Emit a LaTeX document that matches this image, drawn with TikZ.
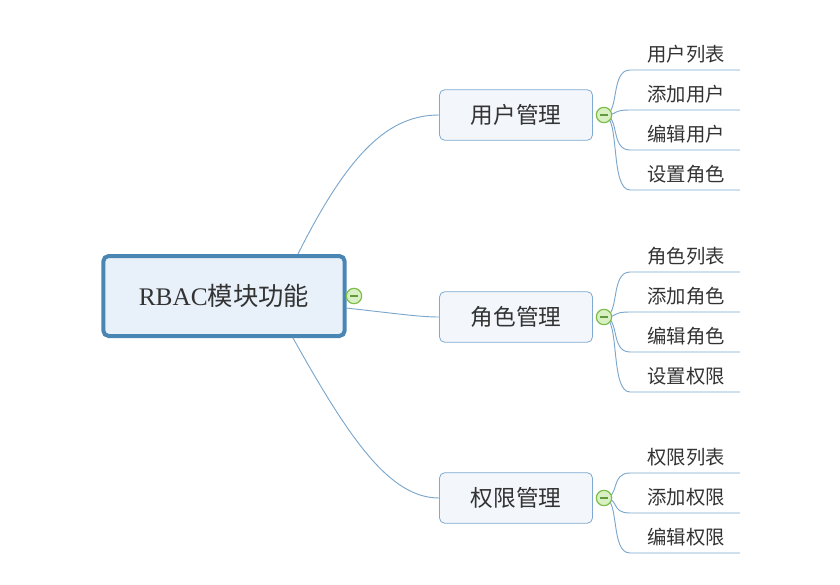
\documentclass[tikz,border=0pt]{standalone}
\usepackage{fontspec}
\setmainfont{Liberation Serif}
\newfontfamily\cjk{Noto Sans CJK SC}
\definecolor{linec}{HTML}{7BA7CD}
\definecolor{rootb}{HTML}{4A86B4}
\definecolor{rootf}{HTML}{E8F0FA}
\definecolor{lvb}{HTML}{7FA9D0}
\definecolor{lvf}{HTML}{F3F7FC}
\definecolor{txt}{HTML}{333333}
\definecolor{gb}{HTML}{7DBE4A}
\definecolor{gf}{HTML}{D9F0C4}
\begin{document}
\begin{tikzpicture}[x=0.75pt,y=-0.75pt,
  rootbox/.style={draw=rootb,line width=3pt,fill=rootf,rounded corners=4pt,minimum width=181pt,minimum height=60pt,inner sep=0pt,font=\fontsize{19}{22}\selectfont,text=txt},
  lvbox/.style={draw=lvb,line width=0.6pt,fill=lvf,rounded corners=4pt,minimum width=114.75pt,minimum height=38pt,inner sep=0pt,font=\cjk\fontsize{17}{20}\selectfont,text=txt},
  leaf/.style={anchor=south,inner sep=0pt,font=\cjk\fontsize{14.5}{17}\selectfont,text=txt},
  conn/.style={draw=linec,line width=0.7pt},
  tog/.style={circle,draw=gb,fill=gf,line width=0.9pt,minimum size=11.5pt,inner sep=0pt,path picture={\draw[gb!80!black,line width=1pt] ([xshift=-3pt]path picture bounding box.center) -- ([xshift=3pt]path picture bounding box.center);}}
]
\useasboundingbox (0,0) rectangle (840,585);
% root
\node[rootbox] (root) at (224,296) {RBAC{\cjk 模块功能}};
\node[tog] (t0) at (354,296) {};
% level 1
\node[lvbox] (u) at (516,115) {用户管理};
\node[lvbox] (r) at (516,317) {角色管理};
\node[lvbox] (p) at (516,498) {权限管理};
\coordinate (ru) at (298,254);
\coordinate (rr) at (346,308);
\coordinate (rp) at (293,338);
\draw[conn] (ru) .. controls (350,150) and (390,115) .. (u.west);
\draw[conn] (rr) .. controls (400,314) and (420,317) .. (r.west);
\draw[conn] (rp) .. controls (350,440) and (390,498) .. (p.west);
% leaves
\foreach \g/\gy/\names in {u/115/{用户列表,添加用户,编辑用户,设置角色},r/317/{角色列表,添加角色,编辑角色,设置权限}}{
  \foreach \n [count=\i] in \names {
    \pgfmathsetmacro{\ly}{\gy-85+40*\i}
    \coordinate (\g s\i) at (630,\ly);
    \coordinate (\g e\i) at (740,\ly);
    \draw[conn] (604,\gy) .. controls (620,\gy) and (610,\ly) .. (\g s\i) -- (\g e\i);
    \node[leaf] (\g l\i) at (686,\ly-7) {\n};
  }
}
\foreach \n [count=\i] in {权限列表,添加权限,编辑权限} {
  \pgfmathsetmacro{\ly}{433+40*\i}
  \coordinate (ps\i) at (630,\ly);
  \coordinate (pe\i) at (740,\ly);
  \draw[conn] (604,498) .. controls (620,498) and (610,\ly) .. (ps\i) -- (pe\i);
  \node[leaf] (pl\i) at (686,\ly-7) {\n};
}
\node[tog] (tu) at (604,115) {};
\node[tog] (tr) at (604,317) {};
\node[tog] (tp) at (604,498) {};
\end{tikzpicture}
\end{document}
